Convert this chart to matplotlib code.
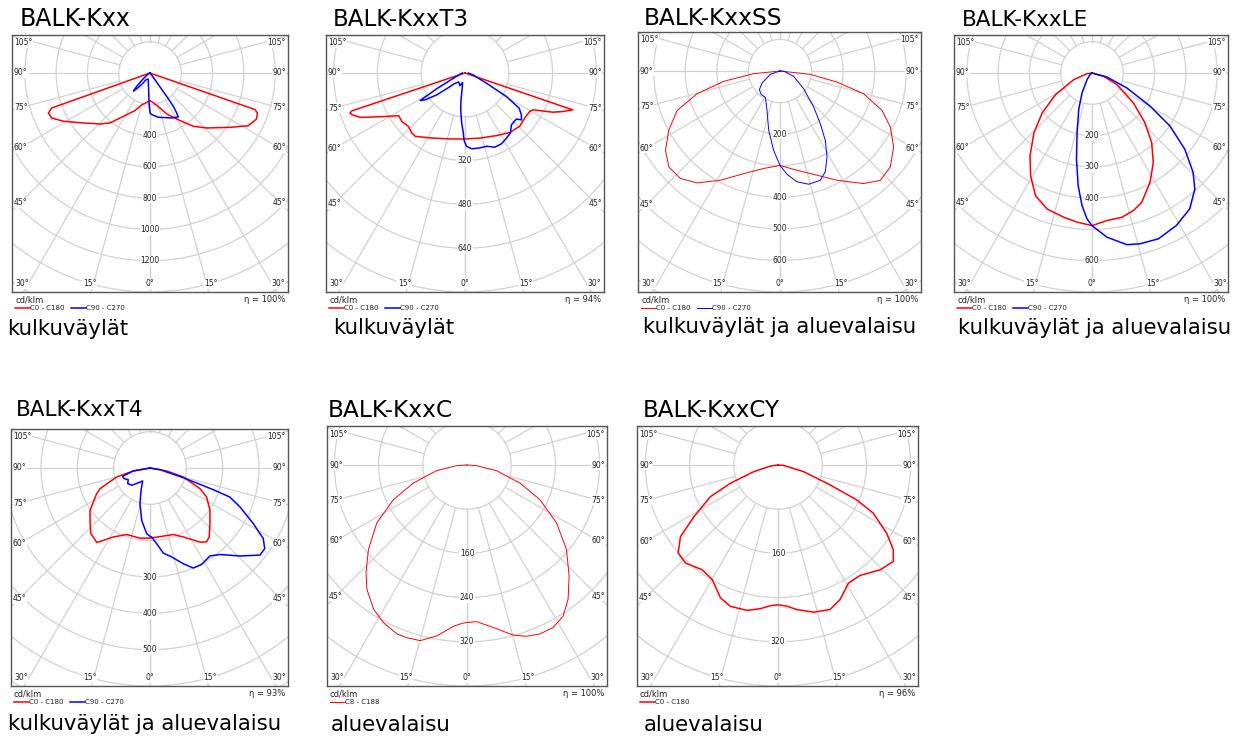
import numpy as np
import matplotlib
matplotlib.use('Agg')
import matplotlib.pyplot as plt
from matplotlib.lines import Line2D
from matplotlib.patches import Circle

# gamma angle (deg from nadir) and intensity (cd/klm), one list pair per half plane
kxx_c0_g = [0, 6, 13.9, 22.6, 31.8, 39.1, 45.9, 55.8, 61.8, 66.7, 69.6, 70.8, 90]
kxx_c0_cd = [177, 190, 222, 285, 355, 439, 505, 618, 713, 742, 732, 711, 0]
kxx_c180_g = [0, 6, 14.6, 22, 29.2, 38.7, 44.4, 53.1, 60.9, 65.4, 68.5, 70.4, 90]
kxx_c180_cd = [177, 188, 211, 260, 305, 409, 456, 532, 634, 691, 698, 667, 0]
kxx_c90_g = [0, 2.3, 10.6, 25.7, 32.8, 33.7, 35, 35.5, 36, 40, 90]
kxx_c90_cd = [255, 266, 288, 319, 334, 307, 260, 183, 77, 10, 0]
kxx_c270_g = [0, 1.9, 4.6, 9.5, 14, 20, 30, 36, 40, 42.5, 45, 48, 52, 60, 90]
kxx_c270_cd = [255, 192, 107, 65, 44, 41, 50, 90, 130, 157, 120, 70, 35, 15, 0]

t3_c0_g = [0, 12.9, 26.7, 37, 45.7, 52.9, 59.3, 61.6, 66, 68.5, 71.1, 90]
t3_c0_cd = [241, 244, 256, 272, 279, 273, 275, 283, 352, 384, 416, 0]
t3_c180_g = [0, 12.7, 28.2, 38.1, 41.5, 46.6, 52.5, 57.2, 60.9, 65, 67, 69.7, 70.8, 71.5, 90]
t3_c180_cd = [241, 247, 269, 294, 293, 284, 291, 288, 326, 381, 415, 440, 445, 435, 0]
t3_c90_g = [0, 1.3, 5, 11.3, 16.4, 21.9, 27.3, 32.5, 37.1, 41.9, 48.1, 50.3, 53.5,
            57, 60.4, 64.5, 76.5, 90]
t3_c90_cd = [255, 268, 278, 279, 279, 292, 291, 282, 275, 254, 252, 268, 256,
             236, 174, 87, 31, 12]
t3_c270_g = [0, 0.9, 1.6, 3.8, 6.7, 8.4, 10, 14, 22, 35, 45, 47.7, 52.2, 56, 58.4,
             59.5, 61, 65.4, 75, 90]
t3_c270_cd = [255, 244, 219, 183, 135, 99, 63, 36, 50, 40, 55, 74, 130, 175, 192,
              150, 115, 47, 20, 10]

ss_c0_g = [0, 9.7, 19.5, 27.5, 36.6, 42.5, 49, 56.2, 63.1, 68.9, 74.8, 79, 83.7, 90]
ss_c0_cd = [299, 319, 350, 390, 444, 470, 463, 433, 392, 346, 274, 184, 97, 0]
ss_c180_g = [0, 9.5, 19.5, 28.6, 36.5, 42.8, 49.2, 55.3, 62, 69, 74.7, 79.6, 84.2, 90]
ss_c180_cd = [299, 313, 345, 394, 441, 464, 465, 441, 399, 349, 272, 181, 84, 0]
ss_c90_g = [0, 3.9, 8.7, 14.2, 20.2, 24.2, 28.7, 33.2, 37.4, 43.1, 53.3, 68.7, 87, 90]
ss_c90_cd = [299, 328, 355, 370, 369, 350, 310, 262, 210, 156, 93, 46, 12, 0]
ss_c270_g = [0, 4.6, 10.8, 18.3, 28.8, 39.2, 47.9, 56.3, 71, 90]
ss_c270_cd = [299, 252, 191, 131, 96, 95, 88, 68, 32, 0]

le_c0_g = [0, 5.8, 11.7, 16.8, 21, 27.9, 34.4, 40.6, 46.8, 54.2, 65, 74, 90]
le_c0_cd = [488, 474, 471, 459, 443, 396, 347, 293, 232, 163, 88, 39, 0]
le_c180_g = [0, 5.7, 11, 18.2, 24.7, 30.8, 36.8, 44.2, 51.3, 59.4, 70, 82, 90]
le_c180_cd = [488, 479, 470, 458, 432, 383, 331, 266, 204, 135, 62, 16, 0]
le_c90_g = [0, 5.2, 11.5, 15.7, 21.8, 29, 35.7, 41.5, 45.5, 50.6, 55.8, 60.3, 66.8, 75, 90]
le_c90_cd = [488, 527, 560, 567, 571, 557, 535, 496, 453, 384, 301, 214, 121, 49, 0]
le_c270_g = [0, 2, 4.3, 7, 10.2, 14, 20, 26.6, 36.9, 50, 90]
le_c270_cd = [488, 466, 425, 363, 280, 197, 124, 71, 26, 8, 0]

t4_c0_g = [0, 11.1, 19.3, 25.8, 34, 37.4, 40.7, 47.1, 54.8, 62.9, 67.5, 74.9, 79.8, 90]
t4_c0_cd = [193, 191, 194, 211, 246, 256, 250, 225, 202, 175, 149, 95, 47, 0]
t4_c180_g = [0, 8.1, 19.3, 28, 35.5, 42.1, 48, 54.8, 64.3, 67.5, 74.9, 79.8, 90]
t4_c180_cd = [193, 195, 194, 215, 252, 243, 222, 202, 163, 149, 95, 47, 0]
t4_c90_g = [0, 1.4, 5, 8.9, 13.7, 19.2, 23.4, 28.1, 34.3, 38.9, 45.6, 51.6, 54.9,
            58.1, 61.7, 66.6, 70, 71.1, 73.8, 80.5, 90]
t4_c90_cd = [188, 190, 209, 237, 252, 279, 300, 301, 293, 306, 346, 386, 386,
             367, 323, 270, 234, 184, 95, 28, 0]
t4_c270_g = [0, 2.9, 9, 15.7, 21.9, 29.4, 40, 46.6, 55, 61.7, 67.7, 73, 80, 90]
t4_c270_cd = [188, 181, 146, 102, 66, 41, 55, 69, 75, 68, 77, 79, 47, 0]

c_c8_g = [0, 3.5, 9.2, 15.2, 19.1, 23.3, 27.9, 32.5, 37, 42.6, 49.7, 57.1, 64.6,
          71.2, 79.2, 86, 90]
c_c8_cd = [285, 284, 298, 319, 328, 333, 333, 324, 304, 273, 236, 193, 146,
           101, 54, 17, 0]
c_c188_g = [0, 1.9, 4.8, 10, 14.9, 19.2, 22.5, 27.9, 32.9, 38.8, 43.2, 49.4, 57.3,
            64.8, 71.5, 79.4, 86.3, 90]
c_c188_cd = [285, 287, 293, 314, 329, 331, 331, 323, 311, 289, 267, 235, 194,
             147, 102, 56, 19, 0]

cy_c0_g = [0, 3.6, 7.5, 13.6, 19.8, 24.8, 30.8, 36.6, 44.3, 50.1, 53.7, 57.9, 63.2,
           66.1, 69.1, 75.4, 86, 90]
cy_c0_cd = [253, 256, 264, 274, 278, 268, 249, 249, 265, 272, 259, 232, 193,
            156, 101, 48, 10, 0]
cy_c180_g = [0, 3.1, 7, 12, 18.6, 23.4, 29.9, 35.9, 43.3, 48.6, 53.7, 58.5, 64.9,
             69, 74.7, 82, 90]
cy_c180_cd = [253, 255, 262, 269, 270, 262, 239, 234, 244, 241, 219, 178, 135,
              92, 45.5, 14, 0]

titles = ['BALK-Kxx', 'BALK-KxxT3', 'BALK-KxxSS', 'BALK-KxxLE',
          'BALK-KxxT4', 'BALK-KxxC', 'BALK-KxxCY']
subtitles = ['kulkuväylät', 'kulkuväylät', 'kulkuväylät ja aluevalaisu',
             'kulkuväylät ja aluevalaisu', 'kulkuväylät ja aluevalaisu',
             'aluevalaisu', 'aluevalaisu']
etas = ['100%', '94%', '100%', '100%', '93%', '100%', '96%']
ring_step = [200, 160, 100, 100, 100, 80, 80]
ring_bottom = [1400, 800, 700, 700, 600, 400, 400]
ring_labels = [[400, 600, 800, 1000, 1200], [320, 480, 640], [200, 400, 500, 600],
               [200, 300, 400, 600], [300, 400, 500], [160, 240, 320], [160, 320]]
legends = [['C0 - C180', 'C90 - C270']] * 5 + [['C8 - C188'], ['C0 - C180']]

curves = [
    [(kxx_c180_g, kxx_c180_cd, kxx_c0_g, kxx_c0_cd), (kxx_c270_g, kxx_c270_cd, kxx_c90_g, kxx_c90_cd)],
    [(t3_c180_g, t3_c180_cd, t3_c0_g, t3_c0_cd), (t3_c270_g, t3_c270_cd, t3_c90_g, t3_c90_cd)],
    [(ss_c180_g, ss_c180_cd, ss_c0_g, ss_c0_cd), (ss_c270_g, ss_c270_cd, ss_c90_g, ss_c90_cd)],
    [(le_c180_g, le_c180_cd, le_c0_g, le_c0_cd), (le_c270_g, le_c270_cd, le_c90_g, le_c90_cd)],
    [(t4_c180_g, t4_c180_cd, t4_c0_g, t4_c0_cd), (t4_c270_g, t4_c270_cd, t4_c90_g, t4_c90_cd)],
    [(c_c188_g, c_c188_cd, c_c8_g, c_c8_cd)],
    [(cy_c180_g, cy_c180_cd, cy_c0_g, cy_c0_cd)],
]

# layout in pixels: box x0, y0, x1, y1 and luminaire centre cx, cy
boxes = [(12, 35, 288, 292, 150, 73), (326, 35, 604, 292, 465, 73),
         (638, 32, 921, 292, 780, 71), (954, 35, 1228, 292, 1092, 73),
         (11, 429, 288, 686, 150, 468), (327, 426, 607, 686, 467, 465),
         (637, 426, 918, 686, 778, 465)]
title_pos = [(20, 26), (333, 26), (644, 25), (962, 26), (16, 416), (328, 417), (643, 417)]
title_fs = [17, 16.6, 16.8, 15.5, 15.5, 16.8, 16.6]
sub_pos = [(7, 335), (333, 334), (643, 333), (958, 334), (8, 730), (331, 731), (644, 731)]
line_w = [1.1, 1.1, 0.7, 1.1, 1.1, 0.7, 1.1]
colors = ['#ff0000', '#0000ff']

W, H = 1241, 738
fig = plt.figure(figsize=(W / 100, H / 100), dpi=100)
fx = lambda x: x / W
fy = lambda y: 1 - y / H
grid_c = '#d2d2d2'

for i in range(7):
    x0, y0, x1, y1, cx, cy = boxes[i]
    k = (y1 - cy) / ring_bottom[i]      # px per cd/klm
    ax = fig.add_axes([fx(x0), fy(y1), (x1 - x0) / W, (y1 - y0) / H])
    ax.set_xlim(-(cx - x0) / k, (x1 - cx) / k)
    ax.set_ylim(-(y1 - cy) / k, (cy - y0) / k)
    ax.set_xticks([])
    ax.set_yticks([])
    for s in ax.spines.values():
        s.set_color('#555555')
        s.set_linewidth(1.0)

    step = ring_step[i]
    for n in range(1, 11):
        ax.add_patch(Circle((0, 0), n * step, fill=False, ec=grid_c, lw=0.9, zorder=1))
    big = 12 * step
    for a in range(0, 181, 15):
        t = np.radians(a)
        for sd in (-1, 1):
            ax.plot([sd * step * np.sin(t), sd * big * np.sin(t)],
                    [-step * np.cos(t), -big * np.cos(t)], color=grid_c, lw=0.9, zorder=1)

    for v in ring_labels[i]:
        ax.text(0, -v, str(v), ha='center', va='center', fontsize=5.5, color='#222222',
                zorder=2, bbox=dict(fc='white', ec='none', pad=0.5))

    # angle labels along the box edge
    hw = cx - x0
    for a in [45, 60, 75, 90, 105]:
        ypx = 0.94 * hw / np.tan(np.radians(a))
        ypx = max(ypx, -(cy - y0 - 8))
        ax.text(-(hw - 2) / k, -ypx / k, '%d°' % a, ha='left', va='center', fontsize=5.5,
                color='#222222', zorder=2, bbox=dict(fc='white', ec='none', pad=0.3))
        ax.text((x1 - cx - 2) / k, -ypx / k, '%d°' % a, ha='right', va='center', fontsize=5.5,
                color='#222222', zorder=2, bbox=dict(fc='white', ec='none', pad=0.3))
    yb = y1 - cy - 8
    for a in [0, 15, 30]:
        xpx = min(1.07 * yb * np.tan(np.radians(a)), hw - 10)
        for sd in ((1,) if a == 0 else (-1, 1)):
            ax.text(sd * xpx / k, -yb / k, '%d°' % a, ha='center', va='center', fontsize=5.5,
                    color='#222222', zorder=2, bbox=dict(fc='white', ec='none', pad=0.3))

    for j, (lg, lr, rg, rr) in enumerate(curves[i]):
        lg_r, lr_r = np.radians(lg), np.asarray(lr, float)
        rg_r, rr_r = np.radians(rg), np.asarray(rr, float)
        xs = np.concatenate([(-lr_r * np.sin(lg_r))[::-1], rr_r * np.sin(rg_r)])
        ys = np.concatenate([(-lr_r * np.cos(lg_r))[::-1], -rr_r * np.cos(rg_r)])
        ax.plot(xs, ys, color=colors[j], lw=line_w[i], zorder=3)

    # texts around the box
    fig.text(fx(title_pos[i][0]), fy(title_pos[i][1]), titles[i], fontsize=title_fs[i],
             ha='left', va='baseline')
    fig.text(fx(sub_pos[i][0]), fy(sub_pos[i][1]), subtitles[i], fontsize=15.3,
             ha='left', va='baseline')
    fig.text(fx(x0 + 3), fy(y1 + 8), 'cd/klm', fontsize=6, ha='left', va='center', color='#222222')
    fig.text(fx(x1 - 3), fy(y1 + 8), 'η = ' + etas[i], fontsize=6, ha='right', va='center',
             color='#222222')
    for j, lab in enumerate(legends[i]):
        lx = x0 + 3 + j * 56
        fig.add_artist(Line2D([fx(lx), fx(lx + 15)], [fy(y1 + 16)] * 2, color=colors[j],
                              lw=line_w[i], transform=fig.transFigure))
        fig.text(fx(lx + 15), fy(y1 + 16), lab, fontsize=5, ha='left', va='center',
                 color='#222222')

fig.savefig('out.png', dpi=100)
